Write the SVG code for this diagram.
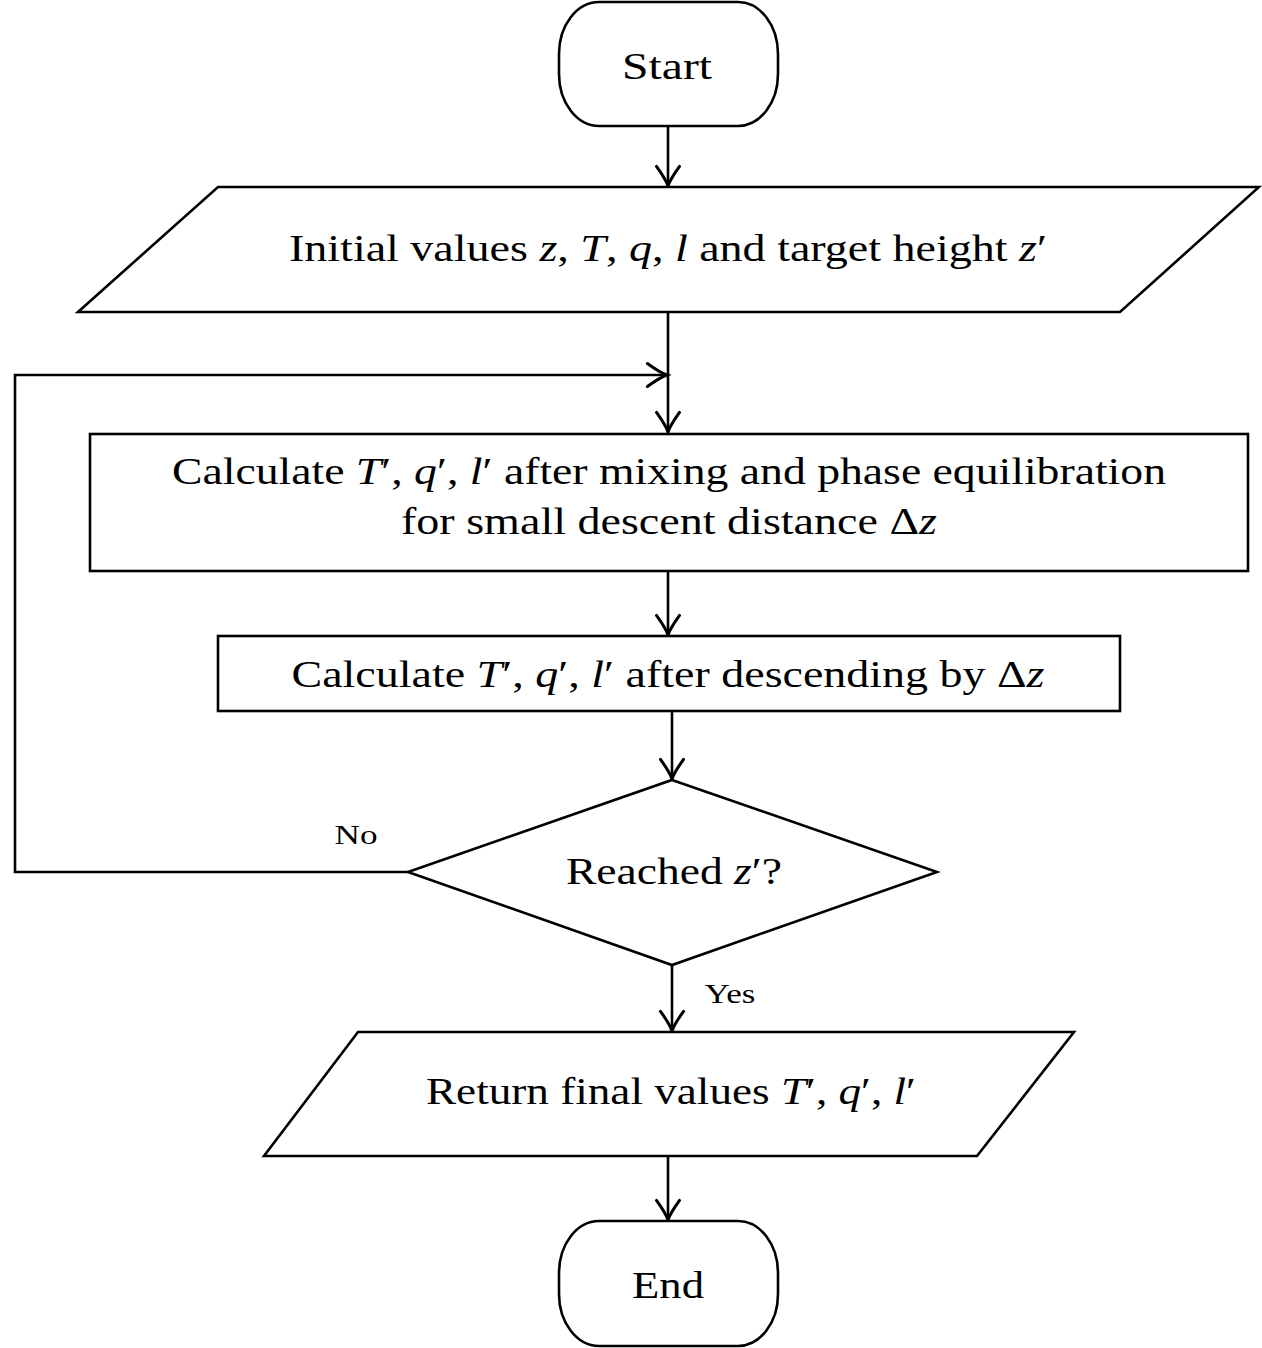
<svg xmlns="http://www.w3.org/2000/svg" width="1262" height="1348" viewBox="0 0 1262 1348">
<style>
.s{fill:#fff;stroke:#000;stroke-width:2.6}
.c{fill:none;stroke:#000;stroke-width:2.6}
text{font-family:"Liberation Serif","DejaVu Serif",serif;font-size:38px;fill:#000;text-anchor:middle}
.i{font-style:italic}
.l{font-size:28px}
</style>
<defs>
<marker id="a" markerUnits="userSpaceOnUse" markerWidth="30" markerHeight="30" viewBox="-22 -12 26 24" refX="0" refY="0" orient="auto">
<path d="M-17,-10 Q-6,-2 0,0 Q-6,2 -17,10" fill="none" stroke="#000" stroke-width="2.6" stroke-linecap="round"/>
</marker>
</defs>
<g id="connectors">
<line class="c" x1="668" y1="126" x2="668" y2="186" marker-end="url(#a)"/>
<line class="c" x1="668" y1="312" x2="668" y2="432" marker-end="url(#a)"/>
<polyline class="c" points="408,872 15,872 15,375 667,375" marker-end="url(#a)"/>
<line class="c" x1="668" y1="571" x2="668" y2="635" marker-end="url(#a)"/>
<line class="c" x1="672" y1="711" x2="672" y2="779" marker-end="url(#a)"/>
<line class="c" x1="672" y1="965" x2="672" y2="1031" marker-end="url(#a)"/>
<line class="c" x1="668" y1="1156" x2="668" y2="1220" marker-end="url(#a)"/>
<text class="l" x="356" y="844" textLength="43" lengthAdjust="spacingAndGlyphs">No</text>
<text class="l" x="730" y="1003" textLength="51" lengthAdjust="spacingAndGlyphs">Yes</text>
</g>
<g id="start">
<rect class="s" x="559" y="2" width="219" height="124" rx="40" ry="52"/>
<text x="667" y="79" textLength="90" lengthAdjust="spacingAndGlyphs">Start</text>
</g>
<g id="input">
<polygon class="s" points="218,187 1259,187 1120,312 78,312"/>
<text x="668" y="261" textLength="758" lengthAdjust="spacingAndGlyphs">Initial values <tspan class="i">z</tspan>, <tspan class="i">T</tspan>, <tspan class="i">q</tspan>, <tspan class="i">l</tspan> and target height <tspan class="i">z</tspan>′</text>
</g>
<g id="mix">
<rect class="s" x="90" y="434" width="1158" height="137"/>
<text x="669" y="484" textLength="994" lengthAdjust="spacingAndGlyphs">Calculate <tspan class="i">T</tspan>′, <tspan class="i">q</tspan>′, <tspan class="i">l</tspan>′ after mixing and phase equilibration</text>
<text x="669" y="534" textLength="536" lengthAdjust="spacingAndGlyphs">for small descent distance Δ<tspan class="i">z</tspan></text>
</g>
<g id="descend">
<rect class="s" x="218" y="636" width="902" height="75"/>
<text x="668" y="687" textLength="753" lengthAdjust="spacingAndGlyphs">Calculate <tspan class="i">T</tspan>′, <tspan class="i">q</tspan>′, <tspan class="i">l</tspan>′ after descending by Δ<tspan class="i">z</tspan></text>
</g>
<g id="decision">
<polygon class="s" points="672,780 937,872 672,965 408,872"/>
<text x="674" y="884" textLength="216" lengthAdjust="spacingAndGlyphs">Reached <tspan class="i">z</tspan>′?</text>
</g>
<g id="output">
<polygon class="s" points="358,1032 1074,1032 977,1156 264,1156"/>
<text x="671" y="1104" textLength="490" lengthAdjust="spacingAndGlyphs">Return final values <tspan class="i">T</tspan>′, <tspan class="i">q</tspan>′, <tspan class="i">l</tspan>′</text>
</g>
<g id="end">
<rect class="s" x="559" y="1221" width="219" height="125" rx="40" ry="52"/>
<text x="668" y="1298" textLength="72" lengthAdjust="spacingAndGlyphs">End</text>
</g>
</svg>
